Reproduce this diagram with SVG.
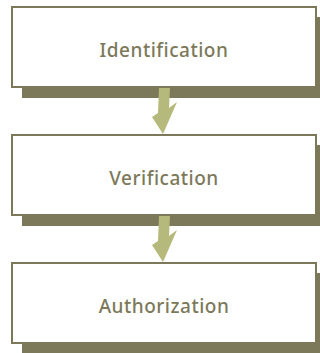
<svg xmlns="http://www.w3.org/2000/svg" width="320" height="353" viewBox="0 0 320 353">
<style>
.shadow{fill:#7c795b;}
.box{fill:#ffffff;stroke:#7c795b;stroke-width:2;}
.label{font-family:"Noto Sans","Liberation Sans",Arial,sans-serif;font-size:19px;font-weight:500;fill:#7c795b;text-anchor:middle;letter-spacing:0.5px;}
.arrow{fill:#b5b97b;}
</style>
<rect width="320" height="353" fill="#ffffff"/>
<g id="node-identification">
<rect class="shadow" x="22" y="17" width="304" height="81"/>
<rect class="box" x="12" y="7" width="304" height="80"/>
<text class="label" x="164" y="57">Identification</text>
</g>
<g id="node-verification">
<rect class="shadow" x="22" y="145" width="304" height="81"/>
<rect class="box" x="12" y="135" width="304" height="80"/>
<text class="label" x="164" y="185">Verification</text>
</g>
<g id="node-authorization">
<rect class="shadow" x="22" y="273" width="304" height="81"/>
<rect class="box" x="12" y="263" width="304" height="80"/>
<text class="label" x="164" y="313">Authorization</text>
</g>
<g id="connectors">
<polygon class="arrow" points="159,88 170,88 169,108 177,102 163,134 152,117 158,113"/>
<polygon class="arrow" points="159,216 170,216 169,236 177,230 163,262 152,245 158,241"/>
</g>
</svg>
